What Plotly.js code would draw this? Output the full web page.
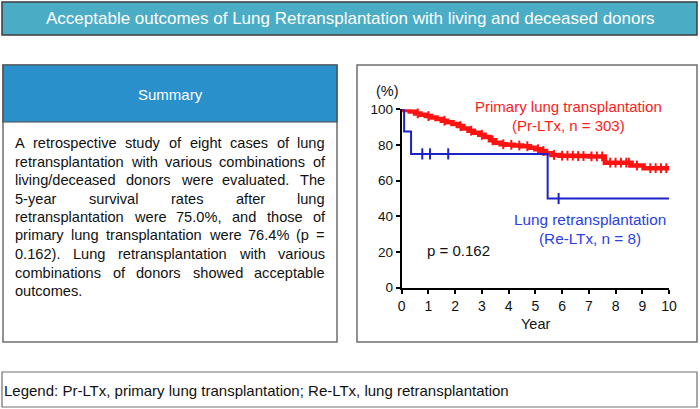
<!DOCTYPE html>
<html>
<head>
<meta charset="utf-8">
<script src="https://cdn.plot.ly/plotly-3.0.1.min.js"></script>
<style>html,body{margin:0;padding:0;background:#fff;}#chart{width:700px;height:409px;}</style>
</head>
<body>
<div id="chart"></div>
<script>
// ---------- DATA ----------
const titleText = "Acceptable outcomes of Lung Retransplantation with living and deceased donors";
const summaryHeader = "Summary";
const summaryLines = [
  "A retrospective study of eight cases of lung",
  "retransplantation with various combinations of",
  "living/deceased donors were evaluated. The",
  "5-year survival rates after lung",
  "retransplantation were 75.0%, and those of",
  "primary lung transplantation were 76.4% (p =",
  "0.162). Lung retransplantation with various",
  "combinations of donors showed acceptable",
  "outcomes."
];
const legendText = "Legend: Pr-LTx, primary lung transplantation; Re-LTx, lung retransplantation";

// Primary lung transplantation (Pr-LTx, n = 303): Kaplan-Meier steps
const prTime = [0, 0.1, 0.3, 0.5, 0.7, 0.9, 1.1, 1.3, 1.5, 1.7, 1.9, 2.1, 2.3, 2.5, 2.7, 2.9, 3.1, 3.3, 3.5, 3.7, 3.9, 4.2, 4.5, 4.8, 5.0, 5.2, 5.4, 5.6, 5.9, 6.5, 7.0, 7.6, 8.6, 9.05, 10.0];
const prSurv = [100, 99.6, 98.8, 97.7, 97.0, 96.2, 95.4, 94.5, 93.6, 92.8, 91.8, 90.6, 89.3, 88.0, 86.8, 85.7, 84.5, 82.6, 81.3, 80.4, 80.1, 79.7, 79.3, 78.4, 77.6, 76.6, 75.4, 74.4, 74.0, 73.8, 73.6, 70.1, 68.5, 67.0, 67.0];
const prCensorTime = [0.6, 1.0, 1.6, 2.2, 2.6, 3.0, 3.4, 3.8, 4.1, 4.4, 4.7, 5.1, 5.3, 5.7, 6.0, 6.2, 6.4, 6.6, 6.8, 7.1, 7.3, 7.5, 7.8, 8.0, 8.2, 8.4, 8.5, 8.8, 9.3, 9.5, 9.7, 9.9];

// Lung retransplantation (Re-LTx, n = 8)
const reTime = [0, 0.09, 0.35, 5.46, 10.0];
const reSurv = [100, 87.5, 75, 50, 50];
const reCensorTime = [0.77, 1.06, 1.74, 5.87];

const xTicks = [0,1,2,3,4,5,6,7,8,9,10];
const yTicks = [0,20,40,60,80,100];

const prLabel = ["Primary lung transplantation", "(Pr-LTx, n = 303)"];
const reLabel = ["Lung retransplantation", "(Re-LTx, n = 8)"];
const pText = "p = 0.162";

// ---------- HELPERS ----------
const W = 700, H = 409;
const FONT = "Liberation Sans, Arial, Helvetica, sans-serif";
function px(x){ return x / W; }
function py(y){ return 1 - y / H; }
function stepAt(times, surv, t){
  let v = surv[0];
  for (let i = 0; i < times.length; i++){ if (times[i] <= t) v = surv[i]; }
  return v;
}
const cvs = document.createElement('canvas');
const ctx2d = cvs.getContext('2d');
function textW(s, size){ ctx2d.font = size + 'px "Liberation Sans", Arial, sans-serif'; return ctx2d.measureText(s).width; }

// ---------- SHAPES ----------
const shapes = [];
function rect(x0,y0,x1,y1,fill,lc,lw){
  shapes.push({type:'rect', xref:'paper', yref:'paper', x0:px(x0), x1:px(x1), y0:py(y1), y1:py(y0),
    fillcolor: fill, line:{color:lc, width:lw}, layer:'below'});
}
rect(2, 2, 697, 35, '#4bacc6', '#3d3d3d', 1.5);         // banner
rect(3, 65, 337, 342, '#ffffff', '#6e6e6e', 1.5);       // summary box
rect(3, 65, 337, 122, '#2990cb', '#4a4a4a', 1.2);       // summary header
rect(357, 65, 697, 342, '#ffffff', '#6e6e6e', 1.5);     // chart box
rect(2, 372, 697, 407, '#ffffff', '#6e6e6e', 1.2);      // legend box

// ---------- ANNOTATIONS ----------
const ann = [];
function txt(s, x, y, size, color, xa){
  ann.push({text:s, xref:'paper', yref:'paper', x:px(x), y:py(y), xanchor:xa||'center', yanchor:'middle',
    showarrow:false, font:{family:FONT, size:size, color:color}, borderpad:0, borderwidth:0});
}
txt(titleText, 350, 18.5, 17, '#ffffff');
txt(summaryHeader, 170, 94, 15, '#ffffff');

// justified summary body
const bodySize = 14.6, bodyLeft = 15, bodyRight = 325, bodyTop = 143, bodyLH = 18.5;
summaryLines.forEach((line, i) => {
  const y = bodyTop + i * bodyLH;
  const words = line.split(' ');
  const last = i === summaryLines.length - 1;
  if (last || words.length === 1){ txt(line, bodyLeft, y, bodySize, '#111111', 'left'); return; }
  const ws = words.map(w => textW(w, bodySize));
  const total = ws.reduce((a,b)=>a+b, 0);
  const gap = Math.max(2.5, (bodyRight - bodyLeft - total) / (words.length - 1));
  let x = bodyLeft;
  words.forEach((w, j) => { txt(w, x, y, bodySize, '#111111', 'left'); x += ws[j] + gap; });
});

txt(legendText, 4, 390, 15, '#111111', 'left');

// chart texts
txt("(%)", 387, 91, 14.5, '#111111');
txt("Year", 535, 324, 14.5, '#111111');
txt(prLabel[0], 568, 106.7, 15, '#ff1a1a');
txt(prLabel[1], 568, 125.7, 15, '#ff1a1a');
txt(reLabel[0], 590, 219, 15.3, '#2a3ee6');
txt(reLabel[1], 590, 238, 15.3, '#2a3ee6');
txt(pText, 426.7, 250, 15, '#111111', 'left');

// ---------- TRACES ----------
const RED = '#ff1212', BLUE = '#1c22c8';
const traces = [
  {x: prTime, y: prSurv, mode:'lines', line:{shape:'hv', color:RED, width:4.5}, hoverinfo:'skip', cliponaxis:false},
  {x: prCensorTime, y: prCensorTime.map(t => stepAt(prTime, prSurv, t)), mode:'markers',
   marker:{symbol:'line-ns-open', size:7, color:RED, line:{color:RED, width:2}}, hoverinfo:'skip', cliponaxis:false},
  {x: reTime, y: reSurv, mode:'lines', line:{shape:'hv', color:BLUE, width:2}, hoverinfo:'skip', cliponaxis:false},
  {x: reCensorTime, y: reCensorTime.map(t => stepAt(reTime, reSurv, t)), mode:'markers',
   marker:{symbol:'line-ns-open', size:8, color:BLUE, line:{color:BLUE, width:2}}, hoverinfo:'skip', cliponaxis:false}
];

const layout = {
  width: W, height: H,
  margin: {l:0, r:0, t:0, b:0, pad:0},
  paper_bgcolor: '#ffffff', plot_bgcolor: 'rgba(0,0,0,0)',
  showlegend: false,
  font: {family: FONT, color:'#111111'},
  xaxis: {domain:[px(401.7), px(669)], range:[0,10], tickvals:xTicks, ticktext:xTicks.map(String),
    showline:true, linecolor:'#000', linewidth:2, ticks:'outside', ticklen:4, tickwidth:2, tickcolor:'#000',
    showgrid:false, zeroline:false, tickfont:{size:14, color:'#111111', family:FONT}, fixedrange:true},
  yaxis: {domain:[py(287.7), py(109.3)], range:[0,100], tickvals:yTicks, ticktext:yTicks.map(String),
    showline:true, linecolor:'#000', linewidth:2, ticks:'outside', ticklen:4, tickwidth:2, tickcolor:'#000',
    showgrid:false, zeroline:false, tickfont:{size:13.5, color:'#111111', family:FONT}, fixedrange:true},
  shapes: shapes,
  annotations: ann
};

Plotly.newPlot('chart', traces, layout, {staticPlot:true, displayModeBar:false});
</script>
</body>
</html>
